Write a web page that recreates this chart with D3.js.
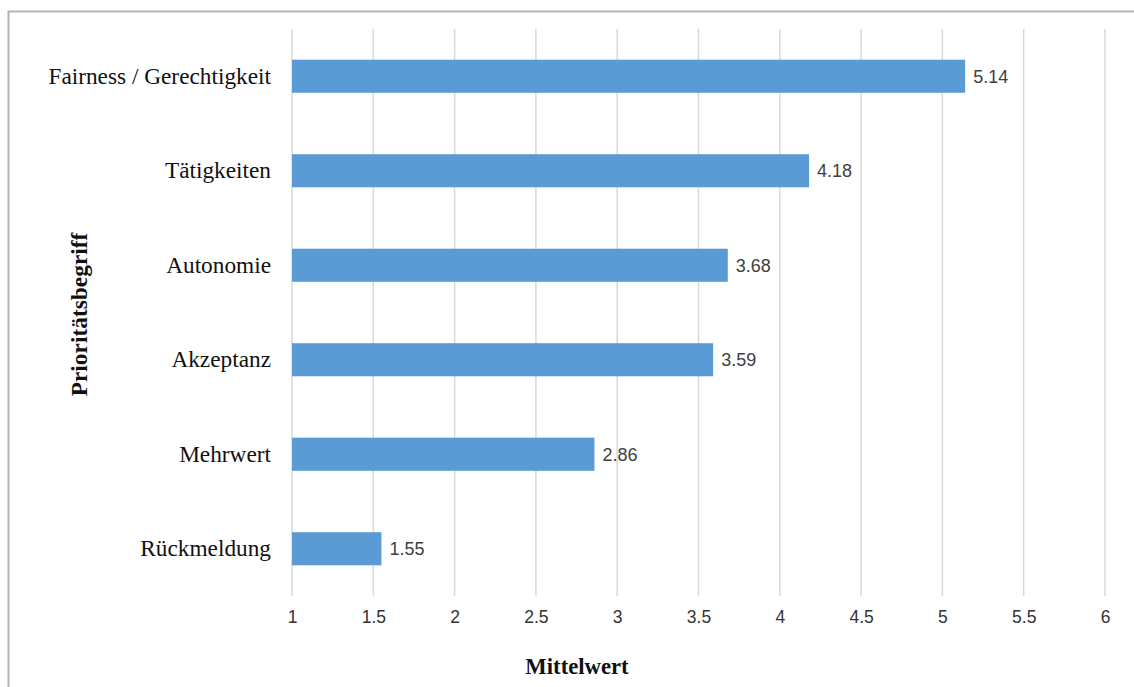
<!DOCTYPE html>
<html>
<head>
<meta charset="utf-8">
<script src="https://cdn.jsdelivr.net/npm/d3@7"></script>
<style>
  body { margin: 0; background: #fff; }
  svg { display: block; }
</style>
</head>
<body>
<div id="chart"></div>
<script>
const categories = ["Fairness / Gerechtigkeit", "Tätigkeiten", "Autonomie", "Akzeptanz", "Mehrwert", "Rückmeldung"]
const values = [5.14, 4.18, 3.68, 3.59, 2.86, 1.55]
const xTicks = [1, 1.5, 2, 2.5, 3, 3.5, 4, 4.5, 5, 5.5, 6]

const width = 1134
const height = 687
const margin = {top: 29, right: 29, bottom: 91, left: 292}

const svg = d3.select("#chart")
    .append("svg")
    .attr("width", width)
    .attr("height", height)

// outer frame
svg.append("rect")
    .attr("x", 8.5)
    .attr("y", 11.5)
    .attr("width", width + 20)
    .attr("height", height + 20)
    .attr("fill", "none")
    .attr("stroke", "#b3b3b3")
    .attr("stroke-width", 2)

const x = d3.scaleLinear()
    .domain([1, 6])
    .range([margin.left, width - margin.right])

const y = d3.scaleBand()
    .domain(categories)
    .range([margin.top, height - margin.bottom])
    .paddingInner(0.65)
    .paddingOuter(0.325)

// grid
svg.append("g")
    .selectAll("line")
    .data(xTicks)
    .join("line")
    .attr("x1", d => x(d))
    .attr("x2", d => x(d))
    .attr("y1", margin.top)
    .attr("y2", height - margin.bottom)
    .attr("stroke", "#d9d9d9")
    .attr("stroke-width", 1.5)

// bars
const data = categories.map((c, i) => ({key: c, value: values[i]}))
svg.append("g")
    .attr("fill", "#5b9bd5")
    .selectAll("rect")
    .data(data)
    .join("rect")
    .attr("x", x(1))
    .attr("y", d => y(d.key))
    .attr("width", d => x(d.value) - x(1))
    .attr("height", y.bandwidth())

// value labels
svg.append("g")
    .selectAll("text")
    .data(data)
    .join("text")
    .attr("x", d => x(d.value) + 8)
    .attr("y", d => y(d.key) + y.bandwidth() / 2)
    .attr("dy", "0.35em")
    .attr("font-family", "Liberation Sans, Arial, sans-serif")
    .attr("font-size", 18)
    .attr("fill", "#404040")
    .text(d => d.value.toFixed(2))

// x axis
svg.append("g")
    .attr("transform", `translate(0,${height - margin.bottom})`)
    .call(d3.axisBottom(x).tickValues(xTicks).tickFormat(d3.format("")).tickSize(0).tickPadding(15))
    .call(g => g.select(".domain").remove())
    .call(g => g.selectAll("text")
        .attr("font-family", "Liberation Sans, Arial, sans-serif")
        .attr("font-size", 17.5)
        .attr("fill", "#333"))

// y axis
svg.append("g")
    .attr("transform", `translate(${margin.left},0)`)
    .call(d3.axisLeft(y).tickSize(0).tickPadding(21))
    .call(g => g.select(".domain").remove())
    .call(g => g.selectAll("text")
        .attr("font-family", "Liberation Serif, Times New Roman, serif")
        .attr("font-size", 23.3)
        .attr("fill", "#111"))

// axis titles (the x title sits left of the plot centre in the original)
svg.append("text")
    .attr("x", 577)
    .attr("y", 674)
    .attr("text-anchor", "middle")
    .attr("font-family", "Liberation Serif, Times New Roman, serif")
    .attr("font-weight", "bold")
    .attr("font-size", 22.7)
    .attr("fill", "#111")
    .text("Mittelwert")

svg.append("text")
    .attr("transform", `translate(87,${(margin.top + height - margin.bottom) / 2 + 2}) rotate(-90)`)
    .attr("text-anchor", "middle")
    .attr("font-family", "Liberation Serif, Times New Roman, serif")
    .attr("font-weight", "bold")
    .attr("font-size", 23.4)
    .attr("fill", "#111")
    .text("Prioritätsbegriff")
</script>
</body>
</html>
